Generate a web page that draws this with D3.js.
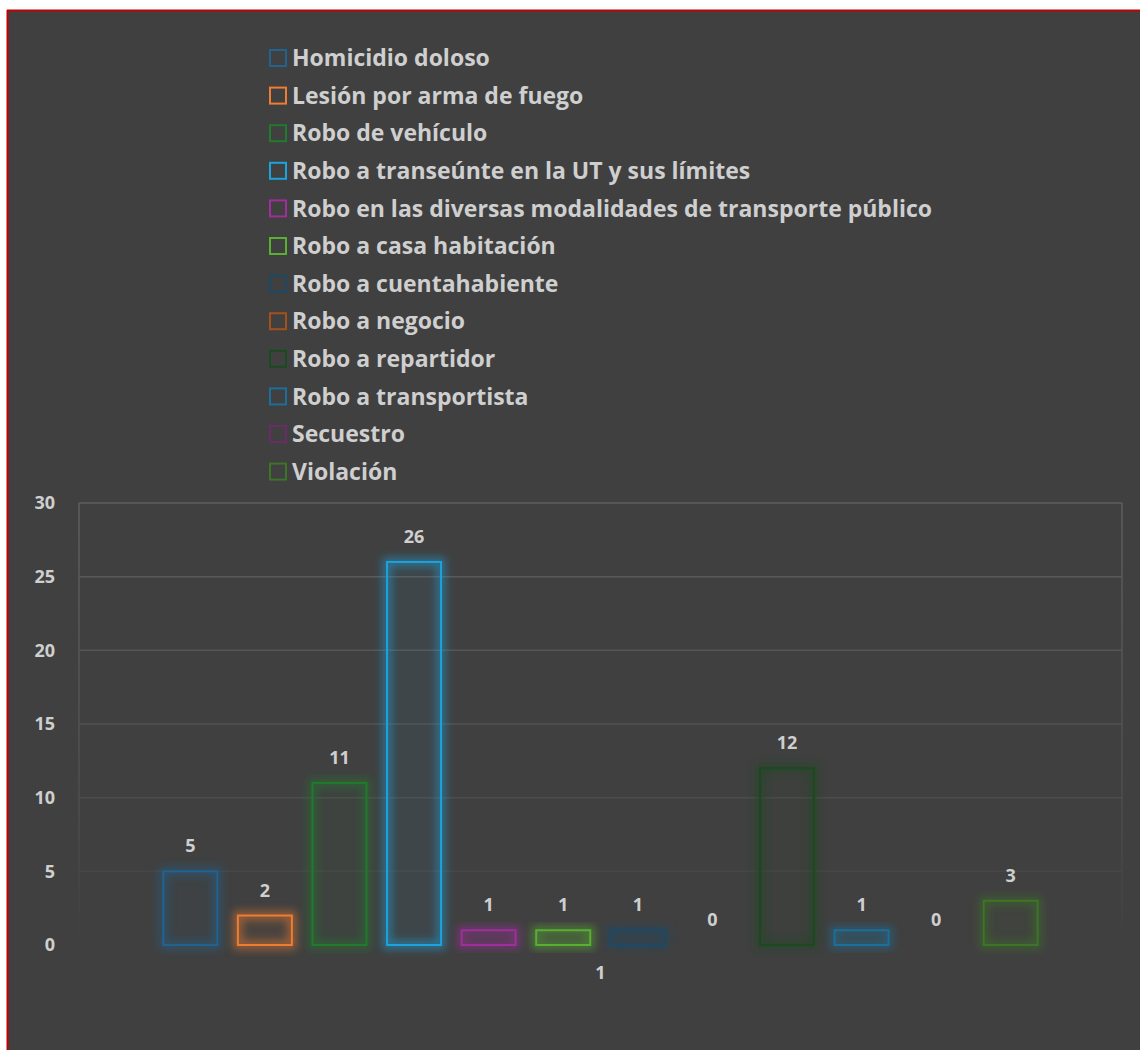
<html>
  <head>
    <meta charset="utf-8">
    <script src="https://d3js.org/d3.v7.min.js"></script>
    <title>Delitos</title>
    <style>
      body { margin: 0; background: #ffffff; }
      svg text { font-family: "Open Sans", Lato, sans-serif; font-weight: 700; fill: #cfcfcf; }
    </style>
  </head>
  <body>
    <div id="chart"></div>
    <script>
      // data
      const categories = ["1"];
      const series = [
        "Homicidio doloso",
        "Lesión por arma de fuego",
        "Robo de vehículo",
        "Robo a transeúnte en la UT y sus límites",
        "Robo en las diversas modalidades de transporte público",
        "Robo a casa habitación",
        "Robo a cuentahabiente",
        "Robo a negocio",
        "Robo a repartidor",
        "Robo a transportista",
        "Secuestro",
        "Violación"
      ];
      const values = [5, 2, 11, 26, 1, 1, 1, 0, 12, 1, 0, 3];
      const colors = [
        "#22628f", "#ed7d31", "#217a2d", "#1aa3de", "#9e2f9b", "#58af32",
        "#1c4966", "#a54f1c", "#1a4a1f", "#1b6f9a", "#6b2b67", "#3d7526"
      ];
      const yTicks = [0, 5, 10, 15, 20, 25, 30];

      const width = 1140;
      const height = 1050;
      const plot = { left: 79, right: 1122, top: 503, bottom: 945 };

      const svg = d3.select("#chart").append("svg")
        .attr("width", width)
        .attr("height", height);

      const defs = svg.append("defs");
      const glow = defs.append("filter").attr("id", "glow")
        .attr("x", "-50%").attr("y", "-50%").attr("width", "200%").attr("height", "200%");
      glow.append("feGaussianBlur").attr("stdDeviation", 4);

      const gridGrad = defs.append("linearGradient").attr("id", "gridfade")
        .attr("gradientUnits", "userSpaceOnUse")
        .attr("x1", 0).attr("y1", plot.top).attr("x2", 0).attr("y2", plot.bottom);
      gridGrad.append("stop").attr("offset", "0%").attr("stop-color", "#5e5e5e");
      gridGrad.append("stop").attr("offset", "70%").attr("stop-color", "#4c4c4c");
      gridGrad.append("stop").attr("offset", "100%").attr("stop-color", "#404040");

      // chart background with red frame
      svg.append("rect")
        .attr("x", 7).attr("y", 10)
        .attr("width", width).attr("height", height)
        .attr("fill", "#404040");
      svg.append("line").attr("x1", 7).attr("x2", width).attr("y1", 10.5).attr("y2", 10.5)
        .attr("stroke", "#c00000").attr("stroke-width", 2);
      svg.append("line").attr("x1", 7.5).attr("x2", 7.5).attr("y1", 10).attr("y2", height)
        .attr("stroke", "#c00000").attr("stroke-width", 2);

      const y = d3.scaleLinear().domain([0, 30]).range([plot.bottom, plot.top]);
      const x0 = d3.scaleBand().domain(categories)
        .range([plot.left, plot.right]).paddingInner(0).paddingOuter(0.0827);
      const x1 = d3.scaleBand().domain(series)
        .range([0, x0.bandwidth()]).paddingInner(0.276).paddingOuter(0.138);

      // gridlines
      const grid = svg.append("g");
      grid.selectAll("line.h").data(yTicks.filter(t => t > 0)).join("line")
        .attr("x1", plot.left).attr("x2", plot.right)
        .attr("y1", d => y(d)).attr("y2", d => y(d))
        .attr("stroke", "url(#gridfade)").attr("stroke-width", 1.5);
      grid.selectAll("line.v").data([plot.left, plot.right]).join("line")
        .attr("x1", d => d).attr("x2", d => d)
        .attr("y1", plot.top).attr("y2", plot.bottom)
        .attr("stroke", "url(#gridfade)").attr("stroke-width", 1.5);

      // y axis labels
      const yAxis = d3.axisLeft(y).tickValues(yTicks).tickSize(0).tickPadding(24);
      const yg = svg.append("g").attr("transform", `translate(${plot.left},0)`).call(yAxis);
      yg.select(".domain").remove();
      yg.selectAll("text").style("font-size", "18px").attr("fill", "#cfcfcf")
        .attr("font-family", "'Open Sans', sans-serif");

      // x axis label (category)
      const xAxis = d3.axisBottom(x0).tickSize(0).tickPadding(21);
      const xg = svg.append("g").attr("transform", `translate(0,${plot.bottom})`).call(xAxis);
      xg.select(".domain").remove();
      xg.selectAll("text").style("font-size", "18px").attr("fill", "#cfcfcf")
        .attr("font-family", "'Open Sans', sans-serif");

      // bars
      const group = svg.append("g");
      const rows = series.map((s, i) => ({ name: s, value: values[i], color: colors[i] }));
      const bars = group.selectAll("g.bar").data(categories.flatMap(c => rows.map(r => ({ ...r, cat: c }))))
        .join("g")
        .attr("transform", d => `translate(${x0(d.cat) + x1(d.name)},0)`);

      bars.filter(d => d.value > 0).append("rect")
        .attr("x", 0).attr("width", x1.bandwidth())
        .attr("y", d => y(d.value)).attr("height", d => y(0) - y(d.value))
        .attr("fill", "none").attr("stroke", d => d.color).attr("stroke-width", 9)
        .attr("opacity", 0.5).attr("filter", "url(#glow)");
      bars.filter(d => d.value > 0).append("rect")
        .attr("x", 0).attr("width", x1.bandwidth())
        .attr("y", d => y(d.value)).attr("height", d => y(0) - y(d.value))
        .attr("fill", d => d.color).attr("fill-opacity", 0.06)
        .attr("stroke", d => d.color).attr("stroke-width", 2);

      bars.append("text")
        .attr("x", x1.bandwidth() / 2)
        .attr("y", d => y(d.value) - 19)
        .attr("text-anchor", "middle")
        .style("font-size", "18px")
        .text(d => d.value);

      // legend
      const legend = svg.append("g").attr("transform", "translate(270,58)");
      const li = legend.selectAll("g").data(rows).join("g")
        .attr("transform", (d, i) => `translate(0,${i * 37.6})`);
      li.append("rect")
        .attr("x", 0).attr("y", -8).attr("width", 16).attr("height", 16)
        .attr("fill", "none").attr("stroke", d => d.color).attr("stroke-width", 2);
      li.append("text")
        .attr("x", 22).attr("y", 0).attr("dy", "0.36em")
        .style("font-size", "23px")
        .text(d => d.name);
    </script>
  </body>
</html>
